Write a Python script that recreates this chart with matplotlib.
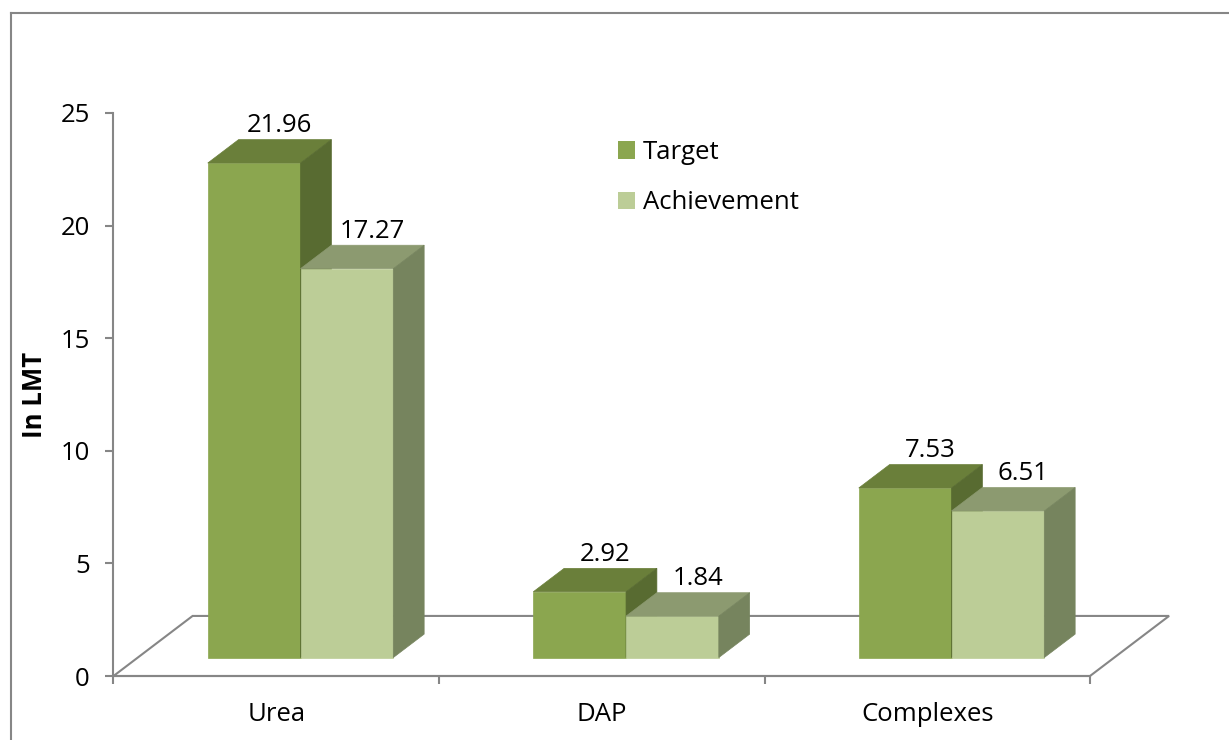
import matplotlib
matplotlib.use("Agg")
import matplotlib.pyplot as plt
from matplotlib.patches import Polygon, Patch
from matplotlib.lines import Line2D

categories = ["Urea", "DAP", "Complexes"]
target = [21.96, 2.92, 7.53]
achievement = [17.27, 1.84, 6.51]
series_names = ["Target", "Achievement"]
yticks = [0, 5, 10, 15, 20, 25]

plt.rcParams['font.family'] = ['Open Sans', 'DejaVu Sans']
FS = 18.5

W, H = 1229, 740
fig = plt.figure(figsize=(W / 100, H / 100), dpi=100)
fig.patch.set_facecolor('white')

x0, x1 = 113.5, 1090
y0, y1 = 676, 113
ax = fig.add_axes([x0 / W, 1 - y0 / H, (x1 - x0) / W, (y0 - y1) / H])
ax.set_xlim(0, 3)
ax.set_ylim(0, 25)
ax.patch.set_alpha(0)

gray = '#868686'
for s in ['top', 'right']:
    ax.spines[s].set_visible(False)
for s in ['left', 'bottom']:
    ax.spines[s].set_color(gray)
    ax.spines[s].set_linewidth(1.5)
    ax.spines[s].set_zorder(5)

ax.set_yticks(yticks)
ax.set_yticklabels([str(t) for t in yticks], fontsize=FS)
ax.tick_params(axis='y', direction='out', length=6, width=1.5, color=gray, pad=11)
ax.set_xticks([0, 1, 2, 3])
ax.set_xticklabels([])
ax.tick_params(axis='x', which='major', direction='out', length=6, width=1.5, color=gray)
ax.set_xticks([i + 0.5 for i in range(len(categories))], minor=True)
ax.set_xticklabels(categories, minor=True, fontsize=FS)
ax.tick_params(axis='x', which='minor', length=0, pad=19)

Dx, Dy = 0.243, 2.667
f0, f1 = 0.307, 0.697
bw = 0.285

n = len(categories)
floor = Polygon([(0, 0), (n, 0), (n + Dx, Dy), (Dx, Dy)], closed=True,
                facecolor='white', edgecolor=gray, lw=1.5, zorder=1, clip_on=False)
ax.add_patch(floor)

colors = {
    0: ('#8BA64F', '#6A7F3A', '#586B31'),
    1: ('#BCCD97', '#8C9A70', '#76845E'),
}

def draw_bar(xl, v, cols, label):
    front, top, side = cols
    xr = xl + bw
    ax0, ay0 = f0 * Dx, f0 * Dy
    bx0, by0 = f1 * Dx, f1 * Dy
    ax.add_patch(Polygon([(xl + ax0, ay0), (xr + ax0, ay0), (xr + ax0, ay0 + v), (xl + ax0, ay0 + v)],
                         closed=True, facecolor=front, edgecolor=front, lw=0.5, zorder=3, clip_on=False))
    ax.add_patch(Polygon([(xl + ax0, ay0 + v), (xr + ax0, ay0 + v), (xr + bx0, by0 + v), (xl + bx0, by0 + v)],
                         closed=True, facecolor=top, edgecolor=top, lw=0.5, zorder=3, clip_on=False))
    ax.add_patch(Polygon([(xr + ax0, ay0), (xr + bx0, by0), (xr + bx0, by0 + v), (xr + ax0, ay0 + v)],
                         closed=True, facecolor=side, edgecolor=side, lw=0.5, zorder=3, clip_on=False))
    cx = (xl + xr) / 2 + bx0
    ax.annotate(label, (cx, by0 + v), xytext=(-4, 1), textcoords='offset points',
                ha='center', va='bottom', fontsize=FS, zorder=6, annotation_clip=False)

for i in range(n):
    draw_bar(i + 0.5 - bw, target[i], colors[0], f"{target[i]:.2f}")
    draw_bar(i + 0.5, achievement[i], colors[1], f"{achievement[i]:.2f}")

handles = [Patch(facecolor=colors[0][0], edgecolor='none'),
           Patch(facecolor=colors[1][0], edgecolor='none')]
fig.legend(handles, series_names, loc='upper left', bbox_to_anchor=(618 / W, 1 - 140 / H),
           frameon=False, fontsize=FS, handlelength=0.66, handleheight=0.66,
           handletextpad=0.3, labelspacing=0.99, borderpad=0, borderaxespad=0)

fig.text(35 / W, 1 - 395 / H, "In LMT", rotation=90, ha='center', va='center',
         fontsize=FS, fontweight='bold')

fig.add_artist(Line2D([10.5 / W, 10.5 / W], [0, 1 - 12.5 / H], color=gray, lw=1.5))
fig.add_artist(Line2D([10.5 / W, 1], [1 - 12.5 / H, 1 - 12.5 / H], color=gray, lw=1.5))

fig.savefig("out.png", dpi=100, facecolor='white')
